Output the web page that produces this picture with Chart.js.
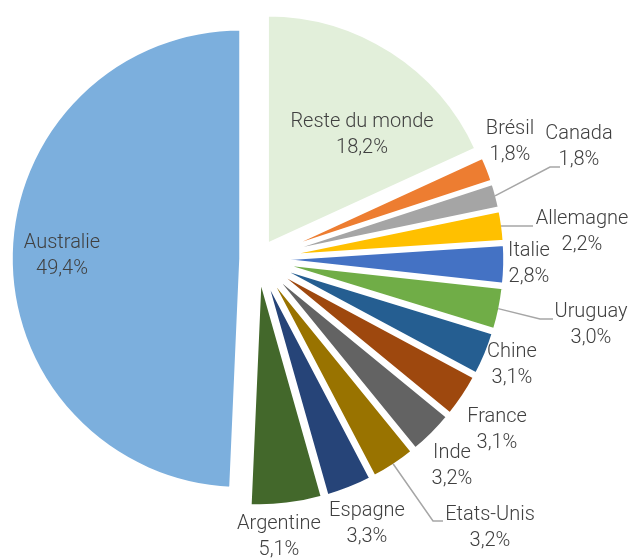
<!DOCTYPE html>
<html>
<head>
<meta charset="utf-8">
<script src="https://cdn.jsdelivr.net/npm/chart.js@4/dist/chart.umd.min.js"></script>
<style>
  html, body { margin: 0; padding: 0; background: #fff; }
  #wrap { width: 630px; height: 558px; position: relative; }
</style>
</head>
<body>
<div id="wrap"><canvas id="pie_chart_canvas"></canvas></div>
<script>
// data (share of the total, %)
var countries = ["Reste du monde", "Brésil", "Canada", "Allemagne", "Italie", "Uruguay", "Chine",
    "France", "Inde", "Etats-Unis", "Espagne", "Argentine", "Australie"];
var shares = [18.2, 1.8, 1.8, 2.2, 2.8, 3.0, 3.1, 3.1, 3.2, 3.2, 3.3, 5.1, 49.4];
var sliceColors = ["#E2EFDA", "#ED7D31", "#A5A5A5", "#FFC000", "#4472C4", "#70AD47", "#255E91",
    "#9E480E", "#636363", "#997300", "#264478", "#43682B", "#7CAFDD"];

// label layout, offsets from the pie centre
var labelSpots = [[104, -124], [252, -117], [321, -112], [324, -27], [271, 5], [333, 66], [254, 106],
    [239, 171], [194, 207], [232, 269], [109, 265], [21, 278], [-196, -3]];
var leaders = { 2: [[292, -92], [302, -92]], 3: [[275, -33]], 5: [[282, 60], [295, 60]], 9: [[175, 262], [185, 262]] };

var EXPLODE = 17;
var BORDER = 3.5;

function pct(v) {
    return v.toFixed(1).replace(".", ",") + "%";
}

var explodePlugin = {
    id: "explode",
    afterDatasetsUpdate: function (chart) {
        chart.getDatasetMeta(0).data.forEach(function (arc) {
            var mid = (arc.startAngle + arc.endAngle) / 2;
            arc.x += Math.cos(mid) * EXPLODE;
            arc.y += Math.sin(mid) * EXPLODE;
        });
    }
};

var labelPlugin = {
    id: "pieLabels",
    afterDraw: function (chart) {
        var ctx = chart.ctx;
        var area = chart.chartArea;
        var cx = (area.left + area.right) / 2;
        var cy = (area.top + area.bottom) / 2;
        var arcs = chart.getDatasetMeta(0).data;
        ctx.save();

        // leader lines
        ctx.strokeStyle = "#A6A6A6";
        ctx.lineWidth = 1.5;
        Object.keys(leaders).forEach(function (k) {
            var arc = arcs[k];
            var mid = (arc.startAngle + arc.endAngle) / 2;
            var r = arc.outerRadius - BORDER / 2;
            ctx.beginPath();
            ctx.moveTo(arc.x + Math.cos(mid) * r, arc.y + Math.sin(mid) * r);
            leaders[k].forEach(function (p) {
                ctx.lineTo(cx + p[0], cy + p[1]);
            });
            ctx.stroke();
        });

        ctx.fillStyle = "#404040";
        ctx.font = "300 20px Roboto, 'Liberation Sans', sans-serif";
        ctx.textAlign = "center";
        ctx.textBaseline = "middle";
        countries.forEach(function (name, i) {
            var x = cx + labelSpots[i][0];
            var y = cy + labelSpots[i][1];
            ctx.fillText(name, x, y - 13);
            ctx.fillText(pct(shares[i]), x, y + 13);
        });
        ctx.restore();
    }
};

new Chart(document.getElementById("pie_chart_canvas").getContext("2d"), {
    type: "pie",
    data: {
        labels: countries,
        datasets: [{
            data: shares,
            backgroundColor: sliceColors,
            borderColor: "#ffffff",
            borderWidth: BORDER
        }]
    },
    options: {
        responsive: true,
        maintainAspectRatio: false,
        animation: false,
        radius: 230,
        layout: {
            padding: { left: 0, right: 114, top: 0, bottom: 40 }
        },
        plugins: {
            legend: { display: false },
            tooltip: { enabled: false }
        },
        events: []
    },
    plugins: [explodePlugin, labelPlugin]
});
</script>
</body>
</html>
